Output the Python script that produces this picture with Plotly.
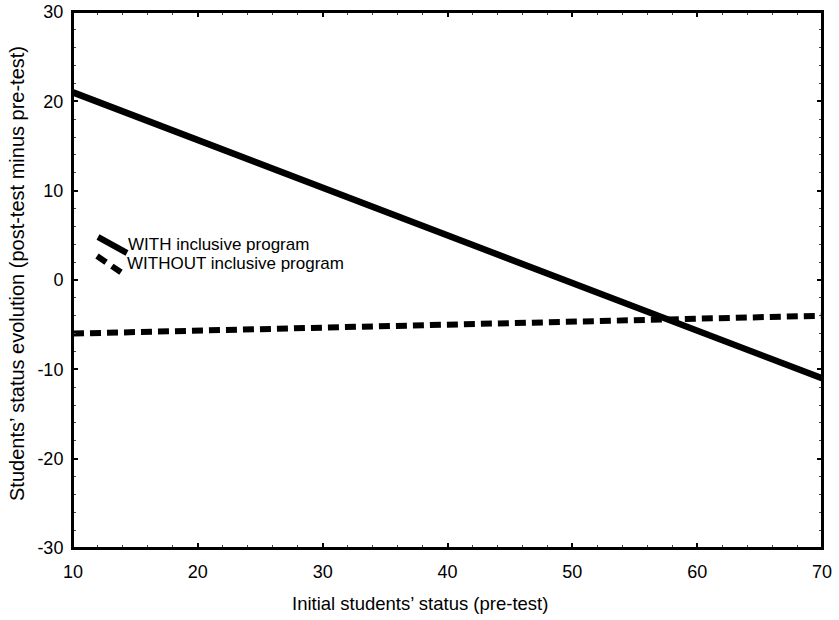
import plotly.graph_objects as go

pre_test = [10, 70]
with_program = [21, -11]
without_program = [-6, -4]
series_names = ["WITH inclusive program", "WITHOUT inclusive program"]
x_ticks = [10, 20, 30, 40, 50, 60, 70]
y_ticks = [-30, -20, -10, 0, 10, 20, 30]
x_labels = ["10", "20", "30", "40", "50", "60", "70"]
y_labels = ["-30", "-20", "-10", "0", "10", "20", "30"]
x_title = "Initial students’ status (pre-test)"
y_title = "Students’ status evolution (post-test minus pre-test)"

fig = go.Figure()
fig.add_trace(go.Scatter(x=pre_test, y=with_program, mode="lines",
                         line=dict(color="black", width=6.5), name=series_names[0],
                         showlegend=False))
fig.add_trace(go.Scatter(x=pre_test, y=without_program, mode="lines",
                         line=dict(color="black", width=6, dash="11px,6px"),
                         name=series_names[1], showlegend=False))

font = "Liberation Sans, Arial, sans-serif"
axis_common = dict(showline=True, linecolor="black", linewidth=2, mirror="ticks",
                   ticks="inside", ticklen=5, tickwidth=1.5, tickcolor="black",
                   showgrid=False, zeroline=False, automargin=False,
                   ticklabeloverflow="allow",
                   tickfont=dict(family=font, size=18, color="black"),
                   minor=dict(ticks="inside", ticklen=3, tickwidth=1, tickcolor="#444",
                              dtick=2))

fig.update_xaxes(range=[10, 70], tickvals=x_ticks, ticktext=x_labels, **axis_common,
                 ticklabelstandoff=6)
fig.update_yaxes(range=[-30, 30], tickvals=y_ticks, ticktext=y_labels, **axis_common,
                 ticklabelstandoff=4)

W, H = 839, 620
L, R, T, B = 73, 17, 12, 72
pw, ph = W - L - R, H - T - B

def px(x):
    return (x - L) / pw

def py(y):
    return 1 - (y - T) / ph

# plot frame (ensures the top border is drawn)
fig.add_shape(type="rect", xref="paper", yref="paper", x0=0, y0=0, x1=1, y1=1,
              line=dict(color="black", width=2), layer="above")

# Custom legend keys (diagonal strokes)
fig.add_shape(type="line", xref="paper", yref="paper",
              x0=px(98), y0=py(237), x1=px(127), y1=py(253),
              line=dict(color="black", width=6))
fig.add_shape(type="line", xref="paper", yref="paper",
              x0=px(97), y0=py(256), x1=px(122), y1=py(273),
              line=dict(color="black", width=6, dash="11px,7px"))
fig.add_annotation(xref="paper", yref="paper", x=px(126), y=py(245), text=series_names[0],
                   showarrow=False, xanchor="left", yanchor="middle",
                   font=dict(family=font, size=17, color="black"))
fig.add_annotation(xref="paper", yref="paper", x=px(125), y=py(263), text=series_names[1],
                   showarrow=False, xanchor="left", yanchor="middle",
                   font=dict(family=font, size=17, color="black"))

# axis titles
fig.add_annotation(xref="paper", yref="paper", x=px(420), y=py(603),
                   text=x_title, showarrow=False,
                   xanchor="center", yanchor="middle",
                   font=dict(family=font, size=18.5, color="black"))
fig.add_annotation(xref="paper", yref="paper", x=px(17), y=py(274),
                   text=y_title,
                   showarrow=False, textangle=-90, xanchor="center", yanchor="middle",
                   font=dict(family=font, size=20, color="black"))

fig.update_layout(width=W, height=H, margin=dict(l=L, r=R, t=T, b=B),
                  plot_bgcolor="white", paper_bgcolor="white", showlegend=False)

fig.write_html("out.html", config={"displayModeBar": False},
               post_script="document.body.style.margin='0';document.body.style.overflow='hidden';")
